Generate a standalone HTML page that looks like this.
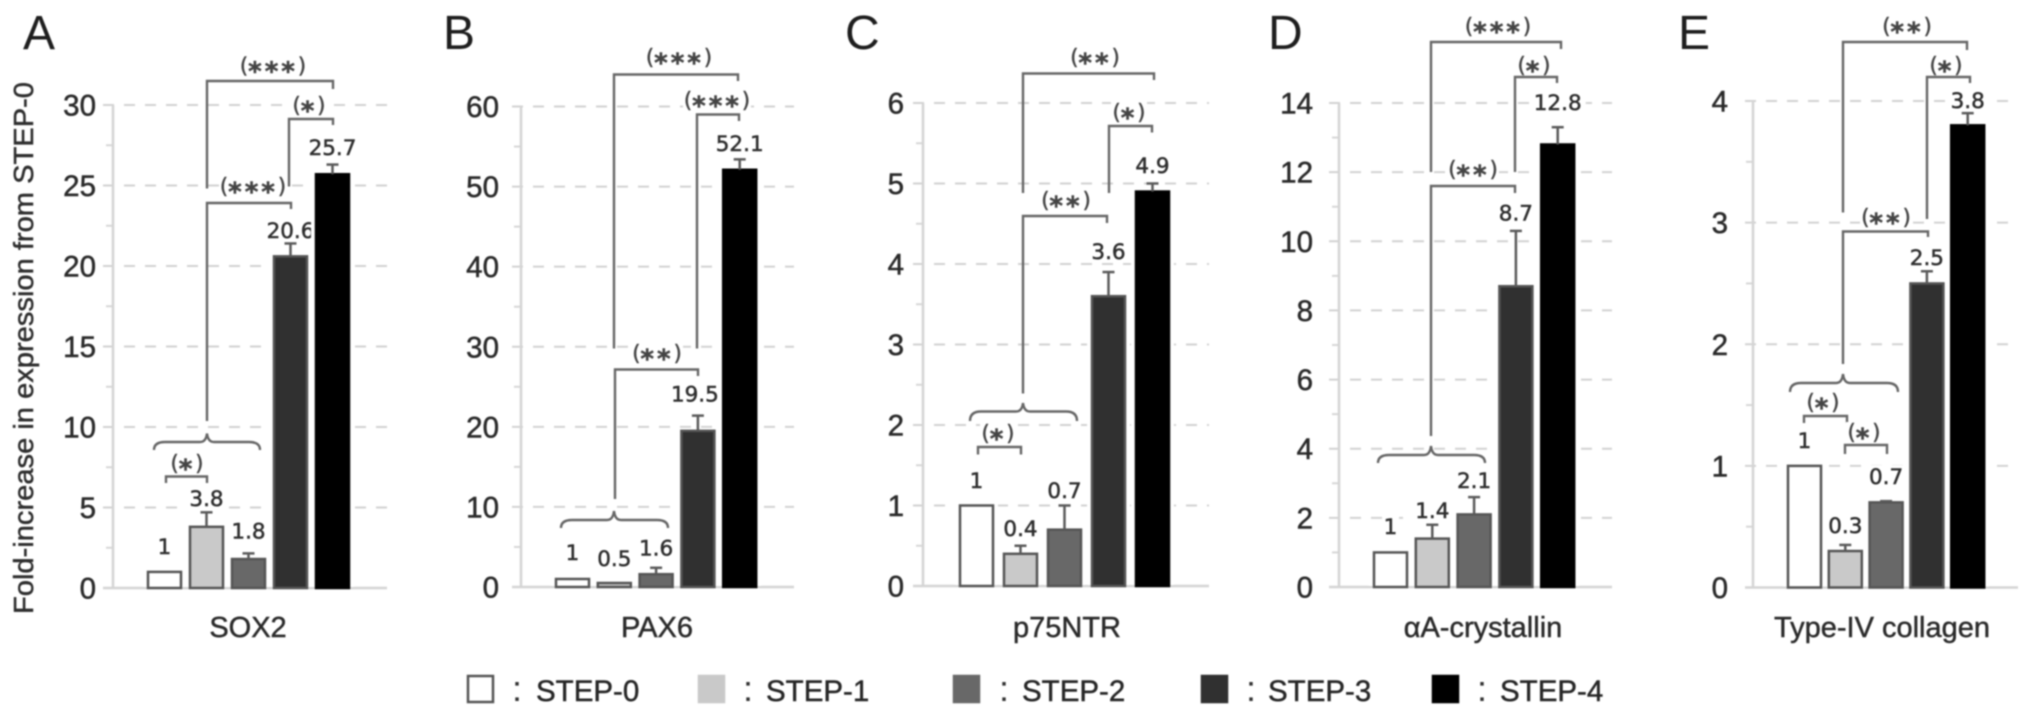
<!DOCTYPE html>
<html>
<head>
<meta charset="utf-8">
<title>Fold-increase in expression by gene and step</title>
<style>
html,body{margin:0;padding:0;background:#fff;width:2032px;height:715px;overflow:hidden}
svg{display:block;filter:blur(0.85px)}
text{font-family:"Liberation Sans","DejaVu Sans",sans-serif}
</style>
</head>
<body>
<svg id="figure" xmlns="http://www.w3.org/2000/svg" width="2032" height="715" viewBox="0 0 2032 715">
<rect x="0" y="0" width="2032" height="715" fill="#ffffff"/>
<text transform="translate(33 348) rotate(-90)" text-anchor="middle" font-size="27.5" fill="#2e2e2e" stroke="#2e2e2e" stroke-width="0.45" textLength="532" lengthAdjust="spacingAndGlyphs">Fold-increase in expression from STEP-0</text>
</svg>
<script>
const stepNames = ['STEP-0', 'STEP-1', 'STEP-2', 'STEP-3', 'STEP-4'];
const panelLetters = ['A', 'B', 'C', 'D', 'E'];
const geneNames = ['SOX2', 'PAX6', 'p75NTR', '\u03b1A-crystallin', 'Type-IV collagen'];

const sox2Values = [1, 3.8, 1.8, 20.6, 25.7];
const sox2Errors = [0, 0.9, 0.35, 0.8, 0.6];
const sox2Ticks = [0, 5, 10, 15, 20, 25, 30];

const pax6Values = [1, 0.5, 1.6, 19.5, 52.1];
const pax6Errors = [0, 0, 0.8, 1.9, 1.3];
const pax6Ticks = [0, 10, 20, 30, 40, 50, 60];

const p75Values = [1, 0.4, 0.7, 3.6, 4.9];
const p75Errors = [0, 0.1, 0.3, 0.3, 0.1];
const p75Ticks = [0, 1, 2, 3, 4, 5, 6];

const crystallinValues = [1, 1.4, 2.1, 8.7, 12.8];
const crystallinErrors = [0, 0.4, 0.5, 1.6, 0.5];
const crystallinTicks = [0, 2, 4, 6, 8, 10, 12, 14];

const collagenValues = [1, 0.3, 0.7, 2.5, 3.8];
const collagenErrors = [0, 0.05, 0.01, 0.1, 0.1];
const collagenTicks = [0, 1, 2, 3, 4];

const panelValues = [sox2Values, pax6Values, p75Values, crystallinValues, collagenValues];
const panelErrors = [sox2Errors, pax6Errors, p75Errors, crystallinErrors, collagenErrors];
const panelTicks = [sox2Ticks, pax6Ticks, p75Ticks, crystallinTicks, collagenTicks];

/* Layout only: pixel geometry of axes, bars and significance annotations. */
const stepFills = ['#ffffff', '#c9c9c9', '#686868', '#303030', '#000000'];
const axisLayouts = [
  {axisX:113, gridL:103, gridR:387, y0:588, yTop:105, tickR:96, barL:148, step:42, letterX:23, geneX:248, gaps:[26,14,23,13.5,17.5], nudge:[0,0,0,0,0]},
  {axisX:521, gridL:512, gridR:794, y0:587, yTop:106.5, tickR:499, barL:556, step:41.8, letterX:443, geneX:657, gaps:[27,25,20,22,16.4], nudge:[0,0,0,-3,0]},
  {axisX:923, gridL:913, gridR:1209, y0:586, yTop:103, tickR:904, barL:960, step:44, letterX:845, geneX:1067, gaps:[25.5,17.75,15.5,21,18.5], nudge:[0,0,0,0,0]},
  {axisX:1339, gridL:1329, gridR:1612, y0:587, yTop:103, tickR:1313, barL:1374, step:41.8, letterX:1268, geneX:1483, gaps:[26.4,14.8,17,18.5,25], nudge:[0,0,0,0,0]},
  {axisX:1753, gridL:1745, gridR:2018, y0:587.5, yTop:101, tickR:1728, barL:1788, step:40.8, letterX:1678, geneX:1882, gaps:[26,20,25,14,13], nudge:[0,0,0,0,0]}
];
const bracketLayouts = [
  [
    {xL:207,xR:333,y:81,endL:188.5,endR:89,lx:273,ly:66.5,stars:3},
    {xL:289,xR:333,y:119,endL:186.5,endR:125,lx:309,ly:106,stars:1},
    {xL:207,xR:291,y:203,endL:421,endR:209,lx:253,ly:187,stars:3},
    {xL:166,xR:207,y:476.5,endL:483,endR:483,lx:187,ly:464,stars:1}
  ],
  [
    {xL:614,xR:738,y:74.5,endL:348.5,endR:81,lx:679,ly:58,stars:3},
    {xL:697,xR:739,y:114.5,endL:348.5,endR:121,lx:717,ly:101,stars:3},
    {xL:615,xR:698,y:369.5,endL:499,endR:376,lx:657,ly:354,stars:2}
  ],
  [
    {xL:1023,xR:1154,y:73.5,endL:193,endR:80,lx:1095,ly:58,stars:2},
    {xL:1109,xR:1152,y:126,endL:193,endR:132.5,lx:1129,ly:113,stars:1},
    {xL:1023,xR:1107,y:216,endL:393.5,endR:223,lx:1066,ly:201,stars:2},
    {xL:978,xR:1021,y:447,endL:454.5,endR:454.5,lx:998,ly:434,stars:1}
  ],
  [
    {xL:1431,xR:1561,y:42,endL:172,endR:49,lx:1498,ly:27,stars:3},
    {xL:1515,xR:1557,y:77,endL:172,endR:83,lx:1534,ly:66,stars:1},
    {xL:1431,xR:1515,y:186,endL:436,endR:193,lx:1473,ly:170,stars:2}
  ],
  [
    {xL:1843,xR:1967,y:42,endL:212.5,endR:50,lx:1907,ly:27,stars:2},
    {xL:1927,xR:1970,y:77,endL:219,endR:83,lx:1946,ly:66,stars:1},
    {xL:1843,xR:1928,y:231.5,endL:364,endR:237,lx:1886,ly:218,stars:2},
    {xL:1804,xR:1847,y:416,endL:423,endR:423,lx:1823,ly:403,stars:1},
    {xL:1845,xR:1887,y:445,endL:454,endR:454,lx:1864,ly:433,stars:1}
  ]
];
const braceLayouts = [
  {xL:154,xR:260,xC:207,y:442,tip:433.5,end:450},
  {xL:561,xR:668,xC:614,y:520,tip:511,end:528},
  {xL:970,xR:1077,xC:1023,y:411.5,tip:403,end:421},
  {xL:1378,xR:1485,xC:1431,y:455,tip:446,end:463},
  {xL:1790,xR:1898,xC:1843,y:383,tip:374,end:392}
];
const legendLayouts = [
  {box:467, colon:517, text:536},
  {box:698, colon:748, text:766},
  {box:953, colon:1004, text:1022},
  {box:1201, colon:1251, text:1268},
  {box:1432, colon:1482, text:1500}
];

const SVGNS = 'http://www.w3.org/2000/svg';
const root = document.getElementById('figure');
function mk(parent, tag, attrs, txt) {
  const el = document.createElementNS(SVGNS, tag);
  for (const k in attrs) el.setAttribute(k, attrs[k]);
  if (txt !== undefined) el.textContent = txt;
  parent.appendChild(el);
  return el;
}
function yScaleFor(layout, ticks) {
  const max = ticks[ticks.length - 1];
  return v => layout.y0 - (v / max) * (layout.y0 - layout.yTop);
}

function drawAxes(g, layout, ticks, y) {
  const stepSize = ticks[1] - ticks[0];
  ticks.forEach((t, i) => {
    const gy = y(t);
    if (t > 0) {
      const grid = mk(g, 'line', {x1:layout.gridL, x2:layout.gridR, y1:gy, y2:gy, stroke:'#d2d2d2', 'stroke-width':2, 'stroke-dasharray':'11 10'});
      
      
    }
    const label = mk(g, 'text', {x:layout.tickR, y:gy + 10.5, 'text-anchor':'end', 'font-size':29.5, fill:'#2a2a2a', stroke:'#2a2a2a', 'stroke-width':0.5}, String(t));
    
    
    if (i < ticks.length - 1) {
      const my = y(t + stepSize / 2);
      const minor = mk(g, 'line', {x1:layout.axisX - 7, x2:layout.axisX, y1:my, y2:my, stroke:'#d6d6d6', 'stroke-width':2});
      
      
    }
  });
  const yAxis = mk(g, 'line', {x1:layout.axisX, x2:layout.axisX, y1:y(ticks[ticks.length - 1]), y2:layout.y0, stroke:'#d4d4d4', 'stroke-width':2.5});
  
  
  const xAxis = mk(g, 'line', {x1:layout.gridL, x2:layout.gridR, y1:layout.y0, y2:layout.y0, stroke:'#d4d4d4', 'stroke-width':2.5});
  
  
}

function drawBars(g, layout, values, errors, y) {
  const barW = 33;
  const valueFont = '"DejaVu Sans",sans-serif';
  values.forEach((v, i) => {
    const x = layout.barL + i * layout.step;
    const errTop = y(v + errors[i]);
    const cx = x + barW / 2;
    const w = String(v).length * 13 + 4;
    const mask = mk(g, 'rect', {x:cx + layout.nudge[i] - w / 2, y:errTop - layout.gaps[i] - 11, width:w, height:22, fill:'#ffffff'});
    
    
  });
  values.forEach((v, i) => {
    const x = layout.barL + i * layout.step;
    const top = y(v);
    const halo = mk(g, 'rect', {x:x - 5, y:top - 2, width:barW + 10, height:Math.max(layout.y0 - top + 1, 0), fill:'#ffffff'});
    
    
    const bar = mk(g, 'rect', {x:x, y:top, width:barW, height:Math.max(layout.y0 - top, 0), fill:stepFills[i], stroke:i === 4 ? '#000' : '#555', 'stroke-width':2.5});
    
    
    const cx = x + barW / 2;
    const errTop = y(v + errors[i]);
    if (errors[i] > 0) {
      const stem = mk(g, 'line', {x1:cx, x2:cx, y1:top, y2:errTop, stroke:'#5a5a5a', 'stroke-width':2.5});
      
      
      const cap = mk(g, 'line', {x1:cx - 6, x2:cx + 6, y1:errTop, y2:errTop, stroke:'#5a5a5a', 'stroke-width':2.5});
      
      
    }
    const vl = mk(g, 'text', {x:cx + layout.nudge[i], y:errTop - layout.gaps[i] + 7.9, 'text-anchor':'middle', 'font-size':21.5, fill:'#2e2e2e', stroke:'#2e2e2e', 'stroke-width':0.5, style:'font-family:' + valueFont}, String(v));
    
    
  });
}

function drawBracket(g, b) {
  const w = b.stars * 16 + 20;
  const mask = mk(g, 'rect', {x:b.lx - w / 2, y:b.ly - 11, width:w, height:22, fill:'#ffffff'});
  
  
  const p = mk(g, 'path', {d:'M' + b.xL + ' ' + b.endL + 'V' + b.y + 'H' + b.xR + 'V' + b.endR, fill:'none', stroke:'#666', 'stroke-width':2.4});
  
  
  const t = mk(g, 'text', {x:b.lx, y:b.ly + 6.5, 'text-anchor':'middle', 'font-size':21, fill:'#444', stroke:'#444', 'stroke-width':0.5, style:'font-family:"DejaVu Sans",sans-serif'});
  
  
  const open = mk(t, 'tspan', {}, '(');
  
  
  const stars = mk(t, 'tspan', {dy:7, 'font-size':26, 'font-weight':'bold', 'letter-spacing':3}, '*'.repeat(b.stars));
  
  
  const close = mk(t, 'tspan', {dy:-7}, ')');
  
  
}

function drawBrace(g, b) {
  const d = 'M' + b.xL + ' ' + b.end + 'Q' + b.xL + ' ' + b.y + ' ' + (b.xL + 11) + ' ' + b.y +
    'H' + (b.xC - 7) + 'Q' + (b.xC - 1) + ' ' + b.y + ' ' + b.xC + ' ' + b.tip +
    'Q' + (b.xC + 1) + ' ' + b.y + ' ' + (b.xC + 7) + ' ' + b.y +
    'H' + (b.xR - 11) + 'Q' + b.xR + ' ' + b.y + ' ' + b.xR + ' ' + b.end;
  const p = mk(g, 'path', {d:d, fill:'none', stroke:'#666', 'stroke-width':2.4});
  
  
}

panelValues.forEach((values, idx) => {
  const layout = axisLayouts[idx];
  const ticks = panelTicks[idx];
  const y = yScaleFor(layout, ticks);
  const g = mk(root, 'g', {});
  
  
  const letter = mk(g, 'text', {x:layout.letterX, y:49, 'font-size':48, fill:'#1e1e1e'}, panelLetters[idx]);
  
  
  drawAxes(g, layout, ticks, y);
  drawBars(g, layout, values, panelErrors[idx], y);
  bracketLayouts[idx].forEach(b => drawBracket(g, b));
  drawBrace(g, braceLayouts[idx]);
  const gene = mk(g, 'text', {x:layout.geneX, y:637, 'text-anchor':'middle', 'font-size':29, fill:'#2a2a2a', stroke:'#2a2a2a', 'stroke-width':0.45}, geneNames[idx]);
  
  
});

const legend = mk(root, 'g', {});


stepNames.forEach((name, i) => {
  const pos = legendLayouts[i];
  const entry = mk(legend, 'g', {});
  
  
  const swatch = mk(entry, 'rect', {x:pos.box + 1, y:676, width:25, height:26, fill:stepFills[i], stroke:i === 0 ? '#555' : stepFills[i], 'stroke-width':2.5});
  
  
  const colon = mk(entry, 'text', {x:pos.colon, y:701, 'text-anchor':'middle', 'font-size':36, fill:'#333'}, ':');
  
  
  const label = mk(entry, 'text', {x:pos.text, y:701, 'font-size':29.5, fill:'#262626', stroke:'#262626', 'stroke-width':0.45}, name);
  
  
});
</script>
</body>
</html>
